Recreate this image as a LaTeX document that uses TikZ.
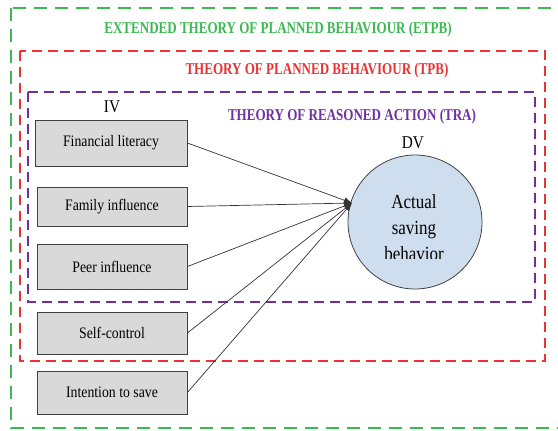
\documentclass[tikz,border=0pt]{standalone}
\usepackage{fontspec}
\usepackage{graphicx}
\setmainfont{Liberation Serif}
\usetikzlibrary{arrows.meta}
\definecolor{cgreen}{RGB}{60,185,80}
\definecolor{cred}{RGB}{235,50,50}
\definecolor{cpurple}{RGB}{112,48,160}
\definecolor{cbox}{RGB}{217,217,217}
\definecolor{ccirc}{RGB}{206,222,238}
\newcommand{\cnd}[2][0.85]{\scalebox{#1}[1]{#2}}
\tikzset{
  ivbox/.style={draw=black!75, fill=cbox, line width=0.8pt, minimum width=150pt, minimum height=44pt, inner sep=0pt, font=\fontsize{16}{18}\selectfont},
  frame/.style={dashed, line width=2pt},
  ttl/.style={font=\bfseries\fontsize{16.5}{18}\selectfont, inner sep=0pt},
  conn/.style={draw=black!80, line width=0.7pt, -{Latex[length=8pt,width=6pt]}},
  lbl/.style={font=\fontsize{18}{20}\selectfont, inner sep=0pt},
}
\begin{document}
\begin{tikzpicture}[x=1pt,y=-1pt]
\useasboundingbox (0,0) rectangle (558,431);
\begin{scope}
\clip (0,0) rectangle (558,431);
\draw[frame, draw=cgreen, dash pattern=on 13pt off 8pt] (11,8) rectangle (575,428);
\end{scope}
\draw[frame, draw=cred, line width=1.6pt, dash pattern=on 10pt off 6pt] (20,51) rectangle (545,361);
\draw[frame, draw=cpurple, dash pattern=on 10pt off 6pt] (28,92) rectangle (535,302);
\node[ttl, text=cgreen] (t1) at (278,30) {\cnd[0.79]{EXTENDED THEORY OF PLANNED BEHAVIOUR (ETPB)}};
\node[ttl, text=cred] (t2) at (317,71) {\cnd[0.79]{THEORY OF PLANNED BEHAVIOUR (TPB)}};
\node[ttl, text=cpurple] (t3) at (352,117) {\cnd[0.79]{THEORY OF REASONED ACTION (TRA)}};
\node[lbl] (iv) at (112,107) {\cnd{IV}};
\node[lbl] (dv) at (413,143) {\cnd{DV}};
\node[ivbox, minimum width=152pt, minimum height=46pt] (a) at (111,143) {\cnd[0.86]{Financial literacy}};
\node[ivbox, minimum height=39pt] (b) at (112,206.5) {\cnd[0.86]{Family influence}};
\node[ivbox, minimum height=45pt] (c) at (112,266.5) {\cnd[0.86]{Peer influence}};
\node[ivbox, minimum height=42pt] (d) at (112,333) {\cnd[0.86]{Self-control}};
\node[ivbox, minimum height=43pt] (e) at (112,392.5) {\cnd[0.86]{Intention to save}};
\node[circle, draw=black!75, fill=ccirc, line width=0.8pt, minimum size=134pt, inner sep=0pt] (y) at (415,222) {};
\begin{scope}
\clip (340,150) rectangle (490,258);
\node[align=center, font=\fontsize{20}{26}\selectfont, inner sep=0pt] (yt) at (414,228) {\cnd{Actual}\\\cnd{saving}\\\cnd{behavior}};
\end{scope}
\coordinate (tip) at (352,203);
\draw[conn] (a.east) -- (tip);
\draw[conn] (b.east) -- (tip);
\draw[conn] (c.east) -- (tip);
\draw[conn] (d.east) -- (tip);
\draw[conn] (e.east) -- (tip);
\end{tikzpicture}
\end{document}
